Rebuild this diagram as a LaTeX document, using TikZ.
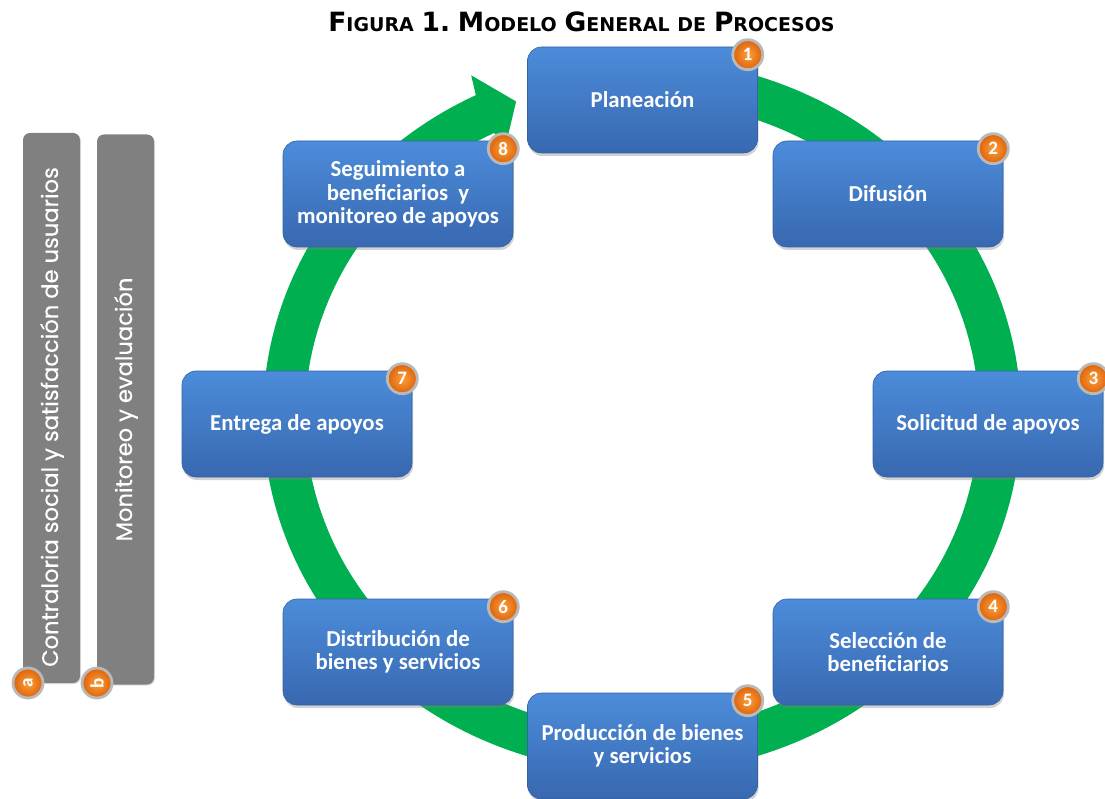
\documentclass[tikz,border=0pt]{standalone}
\usepackage{fontspec}
\setmainfont{Carlito}
\newfontfamily\gothic[FakeBold=0.4]{Poppins}
\newfontfamily\titlefont{DejaVu Sans}
\usetikzlibrary{shadows,calc}
\definecolor{ringgreen}{RGB}{0,176,80}
\definecolor{boxtop}{RGB}{76,140,218}
\definecolor{boxbot}{RGB}{56,104,176}
\definecolor{boxedge}{RGB}{52,98,165}
\definecolor{orin}{RGB}{250,160,60}
\definecolor{orout}{RGB}{222,98,10}
\definecolor{barg}{RGB}{128,128,128}
\newcommand\tsc[2]{{\fontsize{26.5}{26.5}\selectfont #1}{\fontsize{19}{19}\selectfont #2}}
\newcommand\tsp{\hspace{7.8pt}}
\begin{document}
\begin{tikzpicture}[x=1pt,y=-1pt,
 stepbox/.style={rectangle, rounded corners=14pt, minimum width=230pt, minimum height=106pt,
   top color=boxtop, bottom color=boxbot, draw=boxedge, line width=0.6pt, text=white,
   font=\bfseries\fontsize{22.8}{23.5}\selectfont, align=center,
   drop shadow={opacity=0.35, shadow xshift=1pt, shadow yshift=-3pt}},
 numc/.style={circle, minimum size=30pt, inner sep=0pt, inner color=orin, outer color=orout,
   draw=gray!55, line width=2.8pt, text=white, font=\bfseries\fontsize{19}{19}\selectfont},
 sidebar/.style={rectangle, rotate=90, rounded corners=7pt, fill=barg, minimum width=550pt,
   minimum height=57pt, inner sep=0pt,
   drop shadow={opacity=0.25, shadow xshift=1pt, shadow yshift=-1pt}},
 bartext/.style={rotate=90, text=white, font=\gothic\fontsize{22.6}{22.6}\selectfont, inner sep=0pt}]
\useasboundingbox (0,0) rectangle (1105,799);
\fill[white] (0,0) rectangle (1105,799);

% title
\node[anchor=base, inner sep=0pt] (title) at (581.5,32) {\titlefont\bfseries\tsc{F}{IGURA}\tsp{\fontsize{26.5}{26.5}\selectfont 1.}\tsp\tsc{M}{ODELO}\tsp\tsc{G}{ENERAL}\tsp\tsc{}{DE}\tsp\tsc{P}{ROCESOS}};

% green ring with arrow head
\fill[ringgreen] plot[domain=95:-244, samples=240] ({642+379*cos(\x)},{416-357*sin(\x)})
  -- (471.2,75.3) -- (516.1,101.5) -- (504.6,150.1)
  -- plot[domain=-244:95, samples=240] ({642+337*cos(\x)},{416-315*sin(\x)}) -- cycle;

% process boxes
\node[stepbox] (n1) at (642.5,100) {Planeación};
\node[stepbox] (n2) at (888,194) {Difusión};
\node[stepbox] (n3) at (988,424) {Solicitud de apoyos};
\node[stepbox] (n4) at (888,652) {Selección de\\beneficiarios};
\node[stepbox] (n5) at (642.5,746) {Producción de bienes\\y servicios};
\node[stepbox] (n6) at (398,652) {Distribución de\\bienes y servicios};
\node[stepbox] (n7) at (297,424) {Entrega de apoyos};
\node[stepbox] (n8) at (398,194) {Seguimiento a\\beneficiarios\ \ y\\monitoreo de apoyos};

\foreach \i in {1,...,8}{
  \node[numc] (c\i) at ($(n\i.north east)+(-10,8)$) {\i};
}

% side bars
\node[sidebar] (ba) at (51.5,408) {};
\node[sidebar] (bb) at (125.5,409.5) {};
\node[bartext] (ta) at (52,417) {Contraloria social y satisfacción de usuarios};
\node[bartext] (tb) at (126,409.5) {Monitoreo y evaluación};
\node[numc, rotate=90] (ca) at (28,683) {a};
\node[numc, rotate=90] (cb) at (97,683) {b};
\end{tikzpicture}
\end{document}
